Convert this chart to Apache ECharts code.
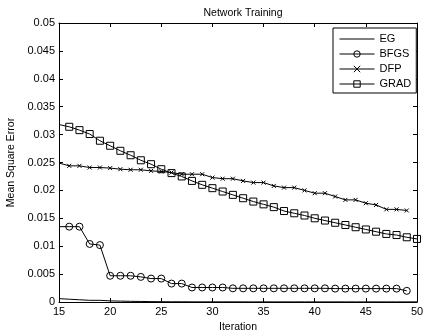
<!DOCTYPE html>
<html>
<head>
<meta charset="utf-8">
<script src="https://cdn.jsdelivr.net/npm/echarts@6/dist/echarts.min.js"></script>
<style>
  html, body { margin: 0; padding: 0; background: #fff; }
  #chart { width: 424px; height: 334px; }
</style>
</head>
<body>
<div id="chart"></div>
<script>
// iterations 15..50
const iterations = [15,16,17,18,19,20,21,22,23,24,25,26,27,28,29,30,31,32,33,34,35,36,37,38,39,40,41,42,43,44,45,46,47,48,49,50];

const eg = [0.0006,0.0005,0.0004,0.0003,0.0003,0.0002,0.00016,0.00012,0.0001,0.00007,0.00005,0.00004,0.00004,0.00003,0.00003,0.00003,0.00003,0.00003,0.00002,0.00002,0.00002,0.00002,0.00002,0.00002,0.00002,0.00002,0.00002,0.00002,0.00002,0.00002,0.00002,0.00002,0.00002,0.00002,0.00002,0.00002];

// BFGS and DFP stop at iteration 49
const bfgs = [0.0135,0.0135,0.0135,0.0104,0.0102,0.0047,0.0047,0.0047,0.0045,0.0042,0.0042,0.0033,0.0033,0.0026,0.0026,0.0026,0.0026,0.00245,0.00245,0.00245,0.00245,0.00245,0.00245,0.00245,0.00245,0.00245,0.00245,0.0024,0.0024,0.0024,0.0024,0.0024,0.0024,0.0024,0.002];

const dfp = [0.0249,0.0244,0.0244,0.0241,0.0241,0.0240,0.0238,0.0237,0.0237,0.0235,0.0234,0.0232,0.0229,0.0229,0.0229,0.0223,0.0221,0.0221,0.0217,0.0214,0.0214,0.0208,0.0205,0.0205,0.0200,0.0195,0.0195,0.0189,0.0183,0.0183,0.0177,0.0174,0.0166,0.0166,0.0164];

const grad = [0.0318,0.0314,0.0308,0.0301,0.0289,0.0280,0.0271,0.0263,0.0254,0.0247,0.0238,0.0231,0.0225,0.0217,0.0210,0.0204,0.0198,0.0192,0.0186,0.0180,0.0175,0.0170,0.0163,0.0159,0.0155,0.0150,0.0146,0.0142,0.0138,0.0134,0.0130,0.0126,0.0122,0.0120,0.0116,0.0113];

const yTicks = { min: 0, max: 0.05, step: 0.005 };
const xTicks = { min: 15, max: 50, step: 5 };

const font = 'Liberation Sans, Arial, sans-serif';

// first point sits on the left edge without a marker, like the original
function toPoints(values) {
    return values.map((v, i) => i === 0
        ? { value: [iterations[i], v], symbol: 'none' }
        : [iterations[i], v]);
}

function makeSeries(name, values, symbol, size, border) {
    return {
        name: name,
        type: 'line',
        data: toPoints(values),
        symbol: symbol,
        symbolSize: size,
        showSymbol: border > 0,
        animation: false,
        lineStyle: { color: '#000', width: 1 },
        itemStyle: { color: 'rgba(0,0,0,0)', borderColor: '#000', borderWidth: border },
        emphasis: { disabled: true }
    };
}

const chart = echarts.init(document.getElementById('chart'));

const tickStyle = { show: true, inside: true, length: 4, lineStyle: { color: '#000' } };

const option = {
    animation: false,
    title: {
        text: 'Network Training',
        left: 238,
        top: 3,
        textAlign: 'center',
        textStyle: { fontFamily: font, fontSize: 10.5, fontWeight: 'normal', color: '#000' }
    },
    legend: {
        orient: 'vertical',
        left: 333,
        top: 28,
        padding: [4, 5, 2, 6],
        itemWidth: 35,
        itemHeight: 8,
        itemGap: 1,
        borderColor: '#000',
        borderWidth: 1,
        backgroundColor: '#fff',
        lineStyle: { width: 1 },
        itemStyle: { borderWidth: 1 },
        textStyle: { fontFamily: font, fontSize: 11, color: '#000', lineHeight: 14 },
        data: [
            { name: 'EG', itemStyle: { borderWidth: 0, color: 'rgba(0,0,0,0)' } },
            'BFGS', 'DFP', 'GRAD'
        ]
    },
    grid: { left: 59, right: 7, top: 23, bottom: 32, outerBoundsMode: 'none', show: false },
    xAxis: [{
        type: 'value',
        min: xTicks.min, max: xTicks.max, interval: xTicks.step,
        name: 'Iteration',
        nameLocation: 'middle',
        nameGap: 20,
        nameTextStyle: { fontFamily: font, fontSize: 10.5, color: '#000' },
        axisLine: { show: true, onZero: false, lineStyle: { color: '#000', width: 1 } },
        axisTick: tickStyle,
        axisLabel: { fontFamily: font, fontSize: 11, color: '#000', margin: 4 },
        splitLine: { show: false }
    }, {
        type: 'value', position: 'top',
        min: xTicks.min, max: xTicks.max, interval: xTicks.step,
        axisLine: { show: true, onZero: false, lineStyle: { color: '#000', width: 1 } },
        axisTick: tickStyle,
        axisLabel: { show: false },
        splitLine: { show: false }
    }],
    yAxis: [{
        type: 'value',
        min: yTicks.min, max: yTicks.max, interval: yTicks.step,
        name: 'Mean Square Error',
        nameLocation: 'middle',
        nameGap: 33,
        nameTextStyle: { fontFamily: font, fontSize: 10.5, color: '#000' },
        axisLine: { show: true, onZero: false, lineStyle: { color: '#000', width: 1 } },
        axisTick: tickStyle,
        axisLabel: { fontFamily: font, fontSize: 11, color: '#000', margin: 4 },
        splitLine: { show: false }
    }, {
        type: 'value', position: 'right',
        min: yTicks.min, max: yTicks.max, interval: yTicks.step,
        axisLine: { show: true, onZero: false, lineStyle: { color: '#000', width: 1 } },
        axisTick: tickStyle,
        axisLabel: { show: false },
        splitLine: { show: false }
    }],
    series: [
        makeSeries('EG', eg, 'circle', 0, 0),
        makeSeries('BFGS', bfgs, 'circle', 7, 1),
        makeSeries('DFP', dfp, 'path://M0,0L10,10M10,0L0,10', 4, 1),
        makeSeries('GRAD', grad, 'rect', 7, 1)
    ]
};

chart.setOption(option);
</script>
</body>
</html>
